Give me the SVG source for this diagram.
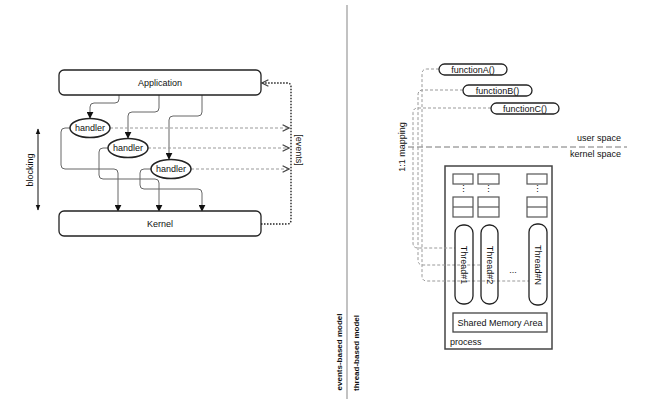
<svg xmlns="http://www.w3.org/2000/svg" width="663" height="416" viewBox="0 0 663 416">
<defs>
<marker id="tri" viewBox="0 0 10 10" refX="9" refY="5" markerWidth="7" markerHeight="7" markerUnits="userSpaceOnUse" orient="auto"><path d="M0,0 L10,5 L0,10 z" fill="#111"/></marker>
<marker id="open" viewBox="0 0 10 10" refX="9" refY="5" markerWidth="8" markerHeight="8" markerUnits="userSpaceOnUse" orient="auto"><path d="M1,1 L9,5 L1,9" fill="none" stroke="#444" stroke-width="1.6"/></marker>
<marker id="tick" viewBox="0 0 10 10" refX="9" refY="5" markerWidth="6" markerHeight="6" markerUnits="userSpaceOnUse" orient="auto"><path d="M0,1 L10,5 L0,9 z" fill="#111"/></marker>
</defs>
<style>
text{font-family:"Liberation Sans",Arial,sans-serif;font-size:9px;fill:#111}
.box{fill:#fff;stroke:#222;stroke-width:1.3}
.ell{fill:#fff;stroke:#222;stroke-width:1.5}
.con{fill:none;stroke:#666;stroke-width:1}
.dash{fill:none;stroke:#999;stroke-width:1;stroke-dasharray:3,2}
.dot{fill:none;stroke:#222;stroke-width:1.4;stroke-dasharray:1.5,1.5}
.map{fill:none;stroke:#999;stroke-width:1;stroke-dasharray:3,2}
.thin{fill:#fff;stroke:#555;stroke-width:1.2}
.model{font-weight:bold;font-size:8px}
</style>
<rect width="663" height="416" fill="#fff"/>

<!-- divider -->
<line x1="347" y1="5" x2="347" y2="399" stroke="#999" stroke-width="1.2"/>
<text class="model" transform="translate(342,352) rotate(-90)" text-anchor="middle">events-based model</text>
<text class="model" transform="translate(359,353) rotate(-90)" text-anchor="middle">thread-based model</text>

<!-- LEFT: events-based model -->
<g id="connectors-left">
<path class="con" d="M119,95 V99 Q119,103 115,103 H94 Q90,103 90,107 V118" marker-end="url(#tri)"/>
<path class="con" d="M159,95 V108 Q159,112 155,112 H132 Q128,112 128,116 V138" marker-end="url(#tri)"/>
<path class="con" d="M202,95 V112 Q202,116 198,116 H173 Q169,116 169,120 V159" marker-end="url(#tri)"/>
<path class="con" d="M70,128 H65 Q61,128 61,132 V165 Q61,169 65,169 H114 Q118,169 118,173 V211" marker-end="url(#tri)"/>
<path class="con" d="M108,148 H103 Q99,148 99,152 V175 Q99,179 103,179 H155 Q159,179 159,183 V211" marker-end="url(#tri)"/>
<path class="con" d="M151,169 H144 Q140,169 140,173 V185 Q140,189 144,189 H198 Q202,189 202,193 V211" marker-end="url(#tri)"/>
<path class="dash" d="M110,128 H289" marker-end="url(#open)"/>
<path class="dash" d="M148,148 H289" marker-end="url(#open)"/>
<path class="dash" d="M191,169 H289" marker-end="url(#open)"/>
<path class="dot" d="M261,224 H287 Q291,224 291,220 V87 Q291,83 287,83 H262" marker-end="url(#open)"/>
<line x1="38" y1="170" x2="38" y2="129" stroke="#111" stroke-width="1" marker-end="url(#tick)"/>
<line x1="38" y1="170" x2="38" y2="210" stroke="#111" stroke-width="1" marker-end="url(#tick)"/>
</g>
<text transform="translate(33,170) rotate(-90)" text-anchor="middle">blocking</text>
<text transform="translate(296,150) rotate(90)" text-anchor="middle">[events]</text>

<g id="application">
<rect class="box" x="59" y="70" width="202" height="25" rx="5"/>
<text x="160" y="85.5" text-anchor="middle">Application</text>
</g>
<g id="kernel">
<rect class="box" x="59" y="211" width="202" height="25" rx="5"/>
<text x="160" y="226.5" text-anchor="middle">Kernel</text>
</g>
<g id="handler1">
<ellipse class="ell" cx="90" cy="128" rx="20" ry="9.5"/>
<text x="90" y="131" text-anchor="middle">handler</text>
</g>
<g id="handler2">
<ellipse class="ell" cx="128" cy="148" rx="20" ry="9.5"/>
<text x="128" y="151" text-anchor="middle">handler</text>
</g>
<g id="handler3">
<ellipse class="ell" cx="171" cy="169" rx="20" ry="9.5"/>
<text x="171" y="172" text-anchor="middle">handler</text>
</g>

<!-- RIGHT: thread-based model -->
<g id="process">
<rect x="445" y="166" width="107" height="183" fill="#fff" stroke="#444" stroke-width="1.5"/>
<text x="450" y="345">process</text>
</g>
<g id="stacks">
<rect class="thin" x="453" y="174" width="20" height="10"/>
<rect class="thin" x="478" y="174" width="21" height="10"/>
<rect class="thin" x="527" y="174" width="20" height="10"/>
<text x="463" y="192" text-anchor="middle" font-size="6" fill="#666">⋮</text>
<text x="488.5" y="192" text-anchor="middle" font-size="6" fill="#666">⋮</text>
<text x="537" y="192" text-anchor="middle" font-size="6" fill="#666">⋮</text>
<rect class="thin" x="453" y="197" width="20" height="20"/>
<line x1="453" y1="207" x2="473" y2="207" stroke="#555" stroke-width="1.2"/>
<rect class="thin" x="478" y="197" width="21" height="20"/>
<line x1="478" y1="207" x2="499" y2="207" stroke="#555" stroke-width="1.2"/>
<rect class="thin" x="527" y="197" width="20" height="20"/>
<line x1="527" y1="207" x2="547" y2="207" stroke="#555" stroke-width="1.2"/>
</g>

<g id="connectors-right">
<line x1="408" y1="147" x2="627" y2="147" stroke="#777" stroke-width="1" stroke-dasharray="6,3"/>
<path class="map" d="M439,69 H427 Q422,69 422,74 V276 Q422,281 427,281 H529"/>
<path class="map" d="M463,90 H423 Q418,90 418,95 V260 Q418,265 423,265 H481"/>
<path class="map" d="M491,108 H418 Q413,108 413,113 V243 Q413,248 418,248 H455"/>
</g>
<text x="621" y="141" text-anchor="end">user space</text>
<text x="621" y="157" text-anchor="end">kernel space</text>
<text transform="translate(405,147) rotate(-90)" text-anchor="middle">1:1 mapping</text>

<g id="functionA">
<rect class="box" x="439" y="64" width="68" height="11" rx="5.5"/>
<text x="473" y="72.5" text-anchor="middle" font-size="8.5">functionA()</text>
</g>
<g id="functionB">
<rect class="box" x="463" y="85" width="69" height="11" rx="5.5"/>
<text x="497.5" y="93.5" text-anchor="middle" font-size="8.5">functionB()</text>
</g>
<g id="functionC">
<rect class="box" x="491" y="103" width="68" height="11" rx="5.5"/>
<text x="525" y="111.5" text-anchor="middle" font-size="8.5">functionC()</text>
</g>

<g id="thread1">
<rect class="box" x="455" y="225" width="18" height="79" rx="8" fill="none" style="fill:none"/>
<text transform="translate(461,265) rotate(90)" text-anchor="middle" font-size="8.5">Thread#1</text>
</g>
<g id="thread2">
<rect class="box" x="481" y="225" width="17" height="79" rx="8" style="fill:none"/>
<text transform="translate(486.5,265) rotate(90)" text-anchor="middle" font-size="8.5">Thread#2</text>
</g>
<text x="513" y="273" text-anchor="middle" font-size="7" fill="#666">...</text>
<g id="threadN">
<rect class="box" x="529" y="224" width="18" height="81" rx="8" style="fill:none"/>
<text transform="translate(535,265) rotate(90)" text-anchor="middle" font-size="8.5">Thread#N</text>
</g>
<g id="shared-memory">
<rect x="453" y="313" width="94" height="19" fill="#fff" stroke="#444" stroke-width="1.3"/>
<text x="500" y="326" text-anchor="middle">Shared Memory Area</text>
</g>
</svg>
